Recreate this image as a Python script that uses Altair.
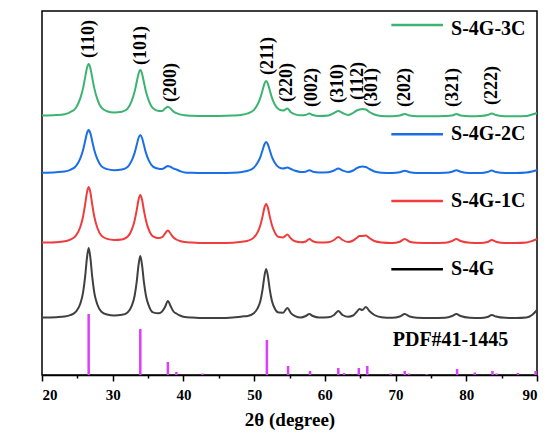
import altair as alt
import pandas as pd

# ---------------- data ----------------
two_theta = [20, 22, 23.2, 24.0, 24.8, 25.4, 25.8, 26.1, 26.35, 26.6,
             26.85, 27.1, 27.4, 27.8, 28.4, 29.2, 30.2, 31.3, 32.1, 32.7,
             33.1, 33.4, 33.65, 33.9, 34.15, 34.4, 34.7, 35.1, 35.7, 36.5,
             37.0, 37.4, 37.8, 38.2, 38.6, 39.0, 39.5, 40.2, 41.2, 43,
             45, 47, 48.3, 49.1, 49.9, 50.5, 50.9, 51.2, 51.45, 51.7,
             51.95, 52.2, 52.5, 52.9, 53.5, 54.1, 54.7, 55.2, 55.8, 56.6,
             57.3, 57.8, 58.3, 59.2, 60.5, 61.3, 61.9, 62.5, 63.3, 64.0,
             64.5, 64.9, 65.3, 65.8, 66.3, 67.0, 68, 69.5, 70.6, 71.3,
             72.0, 73, 75, 77, 78.0, 78.6, 79.2, 80.5, 82, 83.0,
             83.6, 84.2, 85.5, 87, 88.5, 89.3, 90]

s4g = [57.4, 57.8, 58.4, 59.8, 63.3, 71, 82.2, 98.3, 116.6, 127,
       116.6, 98.3, 82.2, 71, 63.3, 60.5, 59.6, 60.2, 62.6, 69.4,
       79.3, 93.6, 109.8, 119, 109.8, 93.6, 79.3, 69.4, 62.6, 61.7,
       63.7, 68, 74, 68.7, 63.5, 61.5, 59.5, 58, 57.5, 57,
       57, 57.5, 58.5, 59, 61.4, 66.8, 74.6, 85.9, 98.7, 106,
       98.7, 85.9, 74.6, 66.8, 62.4, 62.3, 67, 61.9, 58.9, 57.5,
       59, 61, 59, 57.5, 57.8, 60, 64, 60, 58.3, 59.5,
       63, 66, 65, 68, 64, 60, 57.8, 57.2, 58.5, 61,
       58.5, 57.3, 57, 57.3, 59, 61, 59, 57.3, 57, 58,
       60, 58.5, 57.2, 57, 57.5, 60, 65]

s4g_1c = [132.4, 132.8, 133.7, 135.4, 139.3, 147.7, 158.3, 170.6, 182.4, 188,
          182.4, 170.6, 158.3, 147.7, 139.3, 136.1, 135.1, 135.6, 138.2, 145.4,
          154.6, 165.1, 175.2, 180, 175.2, 165.1, 154.6, 145.4, 138.7, 137,
          137.9, 141.5, 144.5, 141.2, 137.5, 135.5, 134, 133, 132.5, 132,
          132, 132.3, 133.2, 134.3, 137.1, 142.9, 150.3, 158.9, 167.1, 171,
          167.1, 158.9, 150.3, 142.9, 137.9, 137.6, 140.5, 136.5, 133.7, 132.7,
          133.5, 136, 133.8, 132.5, 132.8, 135, 138, 135, 133, 134.5,
          137, 139, 139, 139.5, 137, 134, 132.5, 132, 133.3, 136,
          133.3, 132.2, 132, 132.3, 134, 136, 134, 132.3, 132, 133,
          135, 133.3, 132, 132, 132.5, 134, 136]

s4g_2c = [202.3, 202.8, 203.5, 205.2, 208.9, 216.4, 224.8, 233.9, 241.6, 245,
          241.6, 233.9, 224.8, 216.4, 208.9, 205.9, 204.8, 205.5, 208.1, 214.7,
          222.1, 230.2, 237, 240, 237, 230.2, 222.1, 214.7, 208.4, 206.2,
          206, 207.5, 209, 208, 206.5, 205.5, 204, 202.5, 202.2, 202,
          202, 202.3, 203.1, 204.3, 207, 212.4, 218.4, 225, 230.5, 233,
          230.5, 225, 218.4, 212.4, 207.6, 206.5, 207.5, 206, 204.2, 203,
          203.3, 204.8, 203.3, 202.5, 202.8, 204.5, 206.5, 204.5, 203, 204.5,
          206.8, 208, 208.5, 208, 206, 203.5, 202.3, 202, 202.8, 204.3,
          202.8, 202, 202, 202.3, 203.3, 204.8, 203.3, 202, 202, 203,
          204.5, 203, 202, 202, 202.5, 203.5, 205]

s4g_3c = [259.4, 259.9, 260.8, 262.9, 267.3, 276.4, 286.6, 297.6, 306.8, 311,
          306.8, 297.6, 286.6, 276.4, 267.3, 263.7, 262.4, 263.2, 266.4, 274.4,
          283.4, 293.2, 301.3, 305, 301.3, 293.2, 283.4, 274.4, 266.7, 264.1,
          264, 266.5, 268.2, 266.3, 263.5, 261.8, 260.6, 259.7, 259.3, 259,
          259, 259.4, 260.2, 261.6, 264.6, 270.7, 277.6, 285, 291.2, 294,
          291.2, 285, 277.6, 270.7, 265.6, 264.4, 266.4, 262.7, 260.6, 259.7,
          260, 261.5, 260, 259, 259.5, 262, 264, 262, 260, 262,
          264.5, 265.5, 266, 265.5, 263, 260.5, 259, 258.7, 259.5, 261,
          259.5, 258.7, 258.7, 259, 259.5, 261, 259.5, 258.7, 259, 260,
          261.5, 260, 258.7, 258.7, 259, 260.5, 262]

series_names = ["S-4G", "S-4G-1C", "S-4G-2C", "S-4G-3C"]
series_colors = ["#404040", "#f03c3c", "#1a6ee6", "#3cb371"]
legend_line_colors = ["#000000", "#f03c3c", "#1a6ee6", "#3cb371"]

# PDF#41-1445 reference sticks
pdf_pos = [26.6, 33.9, 37.8, 39.0, 42.7, 51.8, 54.8, 57.9, 61.9, 62.7, 64.8,
           66.0, 69.3, 71.3, 71.9, 74.4, 78.7, 81.2, 83.7, 84.3, 87.3, 89.8]
pdf_int = [61, 46, 13, 3, 1.5, 35, 9, 4, 7, 2, 7,
           9, 1.5, 4, 1.5, 1, 6, 2.5, 4, 1.5, 2, 4]

# peak index labels
hkl_text = ["(110)", "(101)", "(200)", "(211)", "(220)", "(002)", "(310)",
            "(112)", "(301)", "(202)", "(321)", "(222)"]
hkl_x = [26.65, 34.0, 38.2, 51.9, 54.7, 58.2, 61.9, 64.7, 66.6, 71.3, 78.1, 83.7]
hkl_y = [317, 310, 273, 300, 273, 268, 272, 275, 268, 268, 268, 270]

# legend placement (data units)
leg_y_line = [105.7, 174, 240.7, 350]
leg_y_text = [100, 168, 235, 340]
leg_x1 = 69.4
leg_x2 = 76.7
leg_xt = 77.85

x_major = [20, 30, 40, 50, 60, 70, 80, 90]
x_minor = [25, 35, 45, 55, 65, 75, 85]

# ---------------- build tables ----------------
rows = []
for name, ys in zip(series_names, [s4g, s4g_1c, s4g_2c, s4g_3c]):
    for xv, yv in zip(two_theta, ys):
        rows.append({"x": xv, "y": yv, "series": name})
curves = pd.DataFrame(rows)

sticks = pd.DataFrame({"x": pdf_pos, "y": pdf_int, "base": [0] * len(pdf_pos)})
labels = pd.DataFrame({"x": hkl_x, "y": hkl_y, "t": hkl_text})
legend = pd.DataFrame({
    "series": series_names,
    "x1": [leg_x1] * 4, "x2": [leg_x2] * 4, "xt": [leg_xt] * 4,
    "yl": leg_y_line, "yt": leg_y_text,
})
pdf_label = pd.DataFrame({"x": [69.6], "y": [29], "t": ["PDF#41-1445"]})
minor_df = pd.DataFrame({"x": x_minor, "y": [0] * len(x_minor)})

FONT = "Liberation Serif"
xscale = alt.Scale(domain=[20, 90], nice=False, zero=False)
yscale = alt.Scale(domain=[0, 364], nice=False, zero=False)

x_axis = alt.Axis(values=x_major, title="2θ (degree)", tickSize=6, tickWidth=1.5,
                  tickColor="black", domainColor="black", domainWidth=1.5,
                  labelFont=FONT, labelFontWeight="bold", labelFontSize=15,
                  labelColor="black", labelPadding=6, grid=False,
                  titleFont=FONT, titleFontWeight="bold", titleFontSize=19,
                  titleColor="black", titlePadding=8, orient="bottom")
y_axis = alt.Axis(title="Intensity (a.u.)", ticks=False, labels=False, grid=False,
                  domainColor="black", domainWidth=1.5, titleFont=FONT,
                  titleFontWeight="bold", titleFontSize=19, titleColor="black",
                  titlePadding=27)

color_scale = alt.Scale(domain=series_names, range=series_colors)
leg_color_scale = alt.Scale(domain=series_names, range=legend_line_colors)

lines = alt.Chart(curves).mark_line(strokeWidth=2, interpolate="monotone").encode(
    x=alt.X("x:Q", scale=xscale, axis=x_axis),
    y=alt.Y("y:Q", scale=yscale, axis=y_axis),
    color=alt.Color("series:N", scale=color_scale, legend=None),
    detail="series:N",
)

minor = alt.Chart(minor_df).mark_point(opacity=0).encode(
    x=alt.X("x:Q", scale=xscale,
            axis=alt.Axis(values=x_minor, tickSize=3, tickWidth=1.5, tickColor="black",
                          labels=False, domain=False, title=None, grid=False,
                          orient="bottom")),
    y=alt.Y("y:Q", scale=yscale, axis=None),
)

stick_marks = alt.Chart(sticks).mark_rule(color="#e03cff", strokeWidth=2.5).encode(
    x=alt.X("x:Q", scale=xscale, axis=None),
    y=alt.Y("y:Q", scale=yscale, axis=None),
    y2="base:Q",
)

hkl = alt.Chart(labels).mark_text(angle=270, align="left", baseline="middle",
                                  font=FONT, fontWeight="bold", fontSize=18,
                                  color="black").encode(
    x=alt.X("x:Q", scale=xscale, axis=None),
    y=alt.Y("y:Q", scale=yscale, axis=None),
    text="t:N",
)

leg_lines = alt.Chart(legend).mark_rule(strokeWidth=2.5).encode(
    x=alt.X("x1:Q", scale=xscale, axis=None),
    x2="x2:Q",
    y=alt.Y("yl:Q", scale=yscale, axis=None),
    color=alt.Color("series:N", scale=leg_color_scale, legend=None),
)

leg_text = alt.Chart(legend).mark_text(align="left", baseline="alphabetic", font=FONT,
                                       fontWeight="bold", fontSize=20,
                                       color="black").encode(
    x=alt.X("xt:Q", scale=xscale, axis=None),
    y=alt.Y("yt:Q", scale=yscale, axis=None),
    text="series:N",
)

pdf_text = alt.Chart(pdf_label).mark_text(align="left", baseline="alphabetic", font=FONT,
                                          fontWeight="bold", fontSize=20,
                                          color="black").encode(
    x=alt.X("x:Q", scale=xscale, axis=None),
    y=alt.Y("y:Q", scale=yscale, axis=None),
    text="t:N",
)

chart = alt.layer(lines, minor, stick_marks, hkl, leg_lines, leg_text, pdf_text).resolve_scale(
    color="independent"
).resolve_axis(x="independent").properties(
    width=495, height=364,
    autosize=alt.AutoSizeParams(type="none"),
    padding={"left": 34, "top": 3, "right": 5, "bottom": 56},
    background="white",
).configure_view(stroke="black", strokeWidth=1.5)

chart.save("out.html", embed_options={"renderer": "svg", "actions": False})
